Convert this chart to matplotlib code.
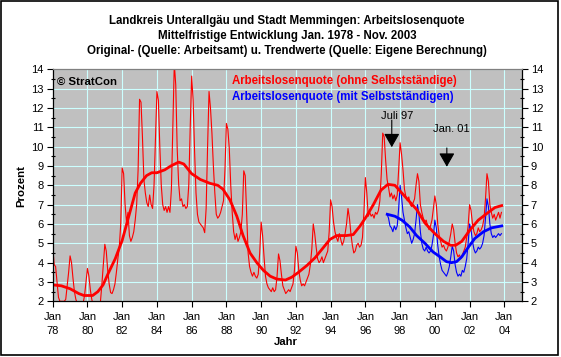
import numpy as np
import matplotlib
matplotlib.use("Agg")
import matplotlib.pyplot as plt
from matplotlib.patches import Rectangle

plt.rcParams['font.family'] = ['Liberation Sans', 'DejaVu Sans']

# monthly rate without self-employed, Jan 1978 - Nov 2003
ohne = {
    1978: [4.9, 3.9, 3.8, 3.0, 2.2, 2.0, 2.0, 2.0, 2.0, 2.1, 2.8, 3.5],
    1979: [4.35, 4.0, 3.2, 2.5, 2.1, 1.9, 1.8, 1.8, 1.8, 1.9, 2.3, 3.0],
    1980: [3.7, 3.3, 2.6, 2.1, 1.8, 1.7, 1.7, 1.7, 1.8, 2.0, 2.9, 3.9],
    1981: [4.95, 4.6, 3.6, 2.9, 2.45, 2.4, 2.6, 2.9, 3.5, 4.2, 4.8, 6.0],
    1982: [8.9, 8.6, 7.0, 6.1, 6.6, 5.4, 5.1, 5.3, 5.6, 6.2, 7.0, 8.8],
    1983: [12.45, 12.3, 10.5, 8.3, 7.6, 7.1, 6.9, 7.5, 7.0, 6.8, 8.0, 10.5],
    1984: [12.85, 12.4, 10.0, 8.0, 7.0, 6.7, 6.9, 6.6, 6.9, 6.6, 7.8, 11.0],
    1985: [14.3, 13.2, 9.9, 8.1, 7.2, 7.3, 6.9, 7.0, 6.8, 6.9, 8.0, 11.0],
    1986: [13.65, 12.4, 9.8, 7.6, 6.5, 6.1, 6.0, 5.9, 5.8, 5.55, 6.8, 10.0],
    1987: [12.85, 12.0, 10.7, 9.0, 7.6, 6.5, 6.3, 6.4, 6.6, 6.9, 7.2, 8.8],
    1988: [11.2, 10.9, 9.9, 8.0, 6.6, 5.6, 5.2, 5.5, 5.1, 5.3, 5.6, 6.5],
    1989: [8.75, 8.5, 6.5, 4.5, 3.8, 3.5, 3.3, 3.5, 3.3, 3.2, 3.4, 4.5],
    1990: [6.1, 5.4, 4.3, 3.3, 2.9, 2.7, 2.6, 2.5, 2.7, 2.5, 2.6, 3.3],
    1991: [4.45, 4.1, 3.4, 2.8, 2.6, 2.4, 2.5, 2.6, 2.5, 2.7, 2.9, 3.6],
    1992: [4.85, 4.5, 3.6, 3.1, 2.8, 2.9, 2.8, 3.0, 3.2, 3.4, 3.9, 4.7],
    1993: [6.0, 5.5, 4.8, 4.2, 4.0, 4.1, 4.3, 4.0, 4.2, 4.4, 4.6, 5.6],
    1994: [7.25, 6.9, 6.1, 5.6, 5.3, 5.1, 5.5, 5.2, 4.9, 5.1, 5.5, 6.0],
    1995: [6.8, 6.3, 5.5, 4.9, 4.5, 4.6, 4.9, 5.0, 4.8, 4.9, 5.3, 6.6],
    1996: [8.4, 7.6, 6.4, 6.6, 6.4, 6.5, 6.3, 6.6, 6.5, 6.7, 7.2, 8.6],
    1997: [10.7, 10.5, 9.3, 8.3, 7.9, 7.4, 7.6, 7.3, 7.5, 7.2, 7.5, 8.8],
    1998: [10.2, 9.6, 8.8, 7.8, 7.4, 7.2, 7.4, 7.0, 6.9, 7.1, 7.3, 8.0],
    1999: [8.6, 8.2, 7.0, 6.6, 6.3, 6.1, 6.2, 5.9, 5.7, 5.9, 6.2, 6.8],
    2000: [7.45, 7.0, 6.0, 5.4, 5.1, 4.8, 4.9, 4.7, 4.6, 4.8, 5.1, 5.5],
    2001: [6.0, 5.7, 5.0, 4.5, 4.3, 4.4, 4.2, 4.4, 4.6, 4.8, 5.3, 5.9],
    2002: [7.0, 6.7, 6.0, 5.6, 5.4, 5.5, 5.8, 5.6, 5.7, 5.9, 6.3, 7.3],
    2003: [8.6, 8.2, 7.0, 6.6, 6.3, 6.5, 6.2, 6.4, 6.6, 6.3, 6.6],
}

# monthly rate with self-employed, Apr 1997 - Nov 2003
mit_start = 1997 + 3 / 12
mit = [6.5, 6.3, 5.9, 5.8, 5.6, 5.9, 5.7, 5.9, 6.8,
       8.0, 7.4, 6.6, 6.2, 5.8, 5.5, 5.6, 5.3, 5.0, 5.2, 5.5, 6.2,
       7.0, 6.5, 5.6, 5.0, 4.7, 4.6, 4.8, 4.6, 4.5, 4.6, 4.9, 5.4,
       6.2, 5.8, 4.9, 4.3, 3.9, 3.6, 3.5, 3.4, 3.3, 3.5, 3.8, 4.3,
       4.85, 4.6, 3.9, 3.5, 3.3, 3.4, 3.3, 3.6, 3.5, 3.8, 4.2, 5.0,
       6.0, 5.7, 5.1, 4.7, 4.5, 4.6, 4.8, 4.7, 4.8, 5.0, 5.4, 6.3,
       7.3, 6.9, 6.0, 5.5, 5.3, 5.4, 5.3, 5.4, 5.5, 5.4, 5.5]

# trend values (own calculation)
trend_ohne_t = [1978.0, 1978.5, 1979.0, 1979.5, 1979.8, 1980.3, 1980.6, 1980.9, 1981.2,
                1981.6, 1982.0, 1982.35, 1982.75, 1983.05, 1983.4, 1983.7, 1984.0,
                1984.45, 1984.8, 1985.25, 1985.55, 1986.0, 1986.5, 1987.06, 1987.5,
                1987.8, 1988.2, 1988.6, 1988.96, 1989.36, 1989.75, 1990.13, 1990.52,
                1990.9, 1991.4, 1991.77, 1992.15, 1992.63, 1993.1, 1993.6, 1993.96,
                1994.35, 1994.9, 1995.3, 1995.7, 1996.07, 1996.46, 1996.9, 1997.3,
                1997.7, 1998.1, 1998.45, 1998.95, 1999.43, 2000.0, 2000.5, 2000.9,
                2001.2, 2001.55, 2002.03, 2002.5, 2003.08, 2003.46, 2003.85]
trend_ohne = [2.85, 2.8, 2.65, 2.4, 2.3, 2.3, 2.5, 2.85, 3.45,
              4.2, 5.15, 6.3, 7.6, 8.1, 8.5, 8.65, 8.65,
              8.8, 9.0, 9.2, 9.1, 8.6, 8.3, 8.1, 8.0,
              7.8, 7.25, 6.4, 5.4, 4.5, 4.0, 3.6, 3.3,
              3.15, 3.1, 3.25, 3.5, 3.85, 4.25, 4.8, 5.2,
              5.4, 5.4, 5.45, 5.9, 6.4, 7.0, 7.75, 8.05,
              8.0, 7.6, 7.25, 6.75, 6.05, 5.5, 5.1, 4.9,
              4.9, 5.1, 5.7, 6.2, 6.6, 6.85, 6.95]

trend_mit_t = [1997.26, 1997.7, 1998.1, 1998.55, 1998.95, 1999.43, 1999.9, 2000.3,
               2000.67, 2000.96, 2001.25, 2001.55, 2001.93, 2002.3, 2002.8, 2003.27, 2003.85]
trend_mit = [6.5, 6.4, 6.2, 5.85, 5.4, 5.0, 4.55, 4.3,
             4.05, 4.0, 4.05, 4.3, 4.8, 5.25, 5.6, 5.8, 5.9]

tick_years = list(range(1978, 2005, 2))
tick_labels = ["Jan\n%02d" % (y % 100) for y in tick_years]

# annotation arrows: (x, y top, y tip)
arrow_juli = (1997.52, 11.37, 9.97)
arrow_jan = (2000.69, 9.93, 8.96)

ohne_vals = np.concatenate([ohne[y] for y in sorted(ohne)])
ohne_t = 1978 + np.arange(len(ohne_vals)) / 12
mit_t = mit_start + np.arange(len(mit)) / 12

W, H = 561, 357
fig = plt.figure(figsize=(W / 100, H / 100), dpi=100)
fig.patch.set_facecolor('white')
fig.patches.append(Rectangle((1 / W, 2 / H), 556.5 / W, 354 / H, transform=fig.transFigure,
                             fill=False, edgecolor='black', lw=1.2))

ax = fig.add_axes([52.7 / W, 55.7 / H, 469 / W, 232 / H])
ax.set_facecolor('#c0c0c0')
ax.set_xlim(1978, 2005)
ax.set_ylim(2, 14)

ax.plot(ohne_t, ohne_vals, color='#ff0000', lw=0.8)
ax.plot(mit_t, mit, color='#0000ff', lw=0.8)
ax.plot(trend_ohne_t, trend_ohne, color='#ff0000', lw=2.0, solid_joinstyle='round')
ax.plot(trend_mit_t, trend_mit, color='#0000ff', lw=2.0, solid_joinstyle='round')

ax.set_xticks(tick_years)
ax.set_xticklabels(tick_labels)
for lab in ax.get_xticklabels():
    lab.set_linespacing(1.5)
ax.set_yticks(range(2, 15))
ax.set_yticks(np.arange(2, 14.01, 0.5), minor=True)
ax.grid(True, which='major', color='#ccffff', lw=0.8)
ax.set_axisbelow(True)

ax.tick_params(axis='both', which='major', labelsize=8, length=4, width=0.8, color='black')
ax.tick_params(axis='y', which='major', right=True, labelright=True, pad=2.5)
ax.tick_params(axis='y', which='minor', right=True, left=True, length=2.5, width=0.8, direction='inout')
ax.tick_params(axis='x', which='major', pad=4)

for side in ['left', 'right', 'bottom']:
    ax.spines[side].set_color('black')
    ax.spines[side].set_linewidth(0.9)
ax.spines['top'].set_color('#808080')
ax.spines['top'].set_linewidth(0.9)

ax.text(1978.22, 13.36, '\u00a9 StratCon', fontsize=8.2, weight='bold', va='center', ha='left')
ax.text(1988.32, 13.4, 'Arbeitslosenquote (ohne Selbstst\u00e4ndige)', color='#ff0000',
        fontsize=8.3, weight='bold', va='center', ha='left')
ax.text(1988.32, 12.58, 'Arbeitslosenquote (mit Selbstst\u00e4ndigen)', color='#0000ff',
        fontsize=8.3, weight='bold', va='center', ha='left')

for (x, ytop, ytip), label, lx, ly in [(arrow_juli, 'Juli 97', 1997.8, 11.6),
                                       (arrow_jan, 'Jan. 01', 2000.95, 10.91)]:
    ax.annotate('', xy=(x, ytip), xytext=(x, ytop),
                arrowprops=dict(arrowstyle='-|>,head_length=0.7,head_width=0.4',
                                mutation_scale=12, color='black', lw=0.8,
                                shrinkA=0, shrinkB=0))
    ax.text(lx, ly, label, fontsize=8, ha='center', va='center')

title = ["Landkreis Unterallg\u00e4u und Stadt Memmingen: Arbeitslosenquote",
         "Mittelfristige Entwicklung Jan. 1978 - Nov. 2003",
         "Original- (Quelle: Arbeitsamt) u. Trendwerte (Quelle: Eigene Berechnung)"]
for line, ypx in zip(title, [20.7, 35.5, 50.7]):
    fig.text(287 / W, 1 - ypx / H, line, ha='center', va='center', fontsize=8.3, weight='bold')

fig.text(21 / W, 1 - 186 / H, 'Prozent', rotation=90, ha='center', va='center',
         fontsize=8.2, weight='bold')
fig.text(286 / W, 1 - 342 / H, 'Jahr', ha='center', va='center', fontsize=8.2, weight='bold')

fig.savefig('out.png', dpi=100)
